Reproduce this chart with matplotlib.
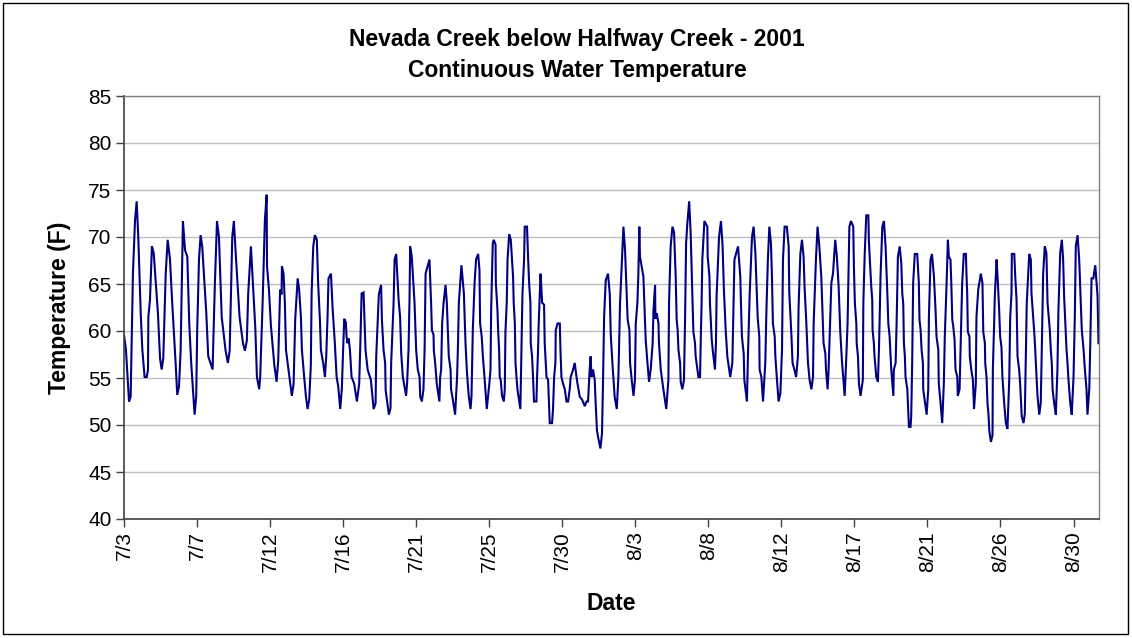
import matplotlib
matplotlib.use("Agg")
import matplotlib.pyplot as plt
from matplotlib.patches import Rectangle
import numpy as np

# Days since 7/3 00:00 and water temperature (F)
days = [0.00, 0.12, 0.31, 0.41, 0.55, 0.68, 0.78, 0.88, 1.03, 1.13, 1.27, 1.40, 1.48, 1.50, 1.60, 1.72, 1.83, 1.95, 2.09, 2.22,
        2.32, 2.42, 2.57, 2.69, 2.83, 2.97, 3.18, 3.28, 3.39, 3.49, 3.63, 3.76, 3.90, 4.02, 4.14, 4.35, 4.45, 4.51, 4.62, 4.72,
        4.82, 5.07, 5.19, 5.46, 5.50, 5.60, 5.73, 5.85, 6.02, 6.26, 6.40, 6.51, 6.67, 6.77, 6.88, 7.12, 7.33, 7.45, 7.57, 7.65,
        7.82, 7.96, 8.09, 8.19, 8.33, 8.39, 8.54, 8.68, 8.79, 8.81, 8.93, 9.05, 9.26, 9.40, 9.50, 9.62, 9.71, 9.73, 9.83, 9.91,
        9.98, 10.08, 10.34, 10.45, 10.55, 10.70, 10.79, 10.90, 10.96, 11.10, 11.21, 11.31, 11.41, 11.51, 11.56, 11.66, 11.76, 11.88, 11.96, 12.07,
        12.13, 12.27, 12.38, 12.46, 12.54, 12.60, 12.75, 12.85, 12.99, 13.10, 13.20, 13.32, 13.42, 13.50, 13.57, 13.67, 13.71, 13.77, 13.84, 13.92,
        14.02, 14.18, 14.35, 14.49, 14.55, 14.64, 14.76, 14.88, 15.01, 15.21, 15.38, 15.50, 15.54, 15.64, 15.70, 15.84, 15.89, 15.99, 16.09, 16.12,
        16.32, 16.42, 16.46, 16.61, 16.67, 16.77, 16.92, 17.01, 17.08, 17.18, 17.38, 17.44, 17.53, 17.59, 17.63, 17.73, 17.80, 17.90, 18.00, 18.10,
        18.21, 18.25, 18.35, 18.45, 18.52, 18.58, 18.72, 18.82, 18.92, 18.97, 19.07, 19.09, 19.17, 19.27, 19.43, 19.48, 19.54, 19.60, 19.69, 19.81,
        19.89, 19.95, 20.01, 20.12, 20.15, 20.26, 20.40, 20.46, 20.52, 20.57, 20.63, 20.79, 20.94, 21.04, 21.12, 21.18, 21.24, 21.35, 21.41, 21.45,
        21.49, 21.60, 21.69, 21.82, 21.90, 21.94, 22.04, 22.11, 22.21, 22.35, 22.52, 22.58, 22.62, 22.72, 22.78, 22.89, 22.91, 23.01, 23.05, 23.11,
        23.15, 23.21, 23.29, 23.40, 23.46, 23.50, 23.58, 23.63, 23.73, 23.83, 23.97, 24.01, 24.08, 24.12, 24.18, 24.24, 24.42, 24.49, 24.55, 24.65,
        24.69, 24.83, 24.90, 24.96, 25.04, 25.06, 25.14, 25.20, 25.26, 25.41, 25.45, 25.51, 25.55, 25.66, 25.70, 25.76, 25.88, 25.92, 26.03, 26.13,
        26.17, 26.23, 26.37, 26.43, 26.50, 26.58, 26.60, 26.71, 26.85, 26.89, 26.95, 27.05, 27.16, 27.26, 27.36, 27.46, 27.52, 27.67, 27.77, 27.88,
        27.94, 28.08, 28.22, 28.39, 28.49, 28.59, 28.69, 28.75, 28.80, 28.90, 29.00, 29.06, 29.14, 29.21, 29.35, 29.45, 29.51, 29.58, 29.68, 29.82,
        29.93, 29.99, 30.09, 30.23, 30.36, 30.46, 30.56, 30.67, 30.77, 30.87, 30.93, 31.03, 31.14, 31.18, 31.28, 31.39, 31.48, 31.53, 31.63, 31.69,
        31.75, 31.79, 31.90, 32.00, 32.06, 32.14, 32.25, 32.35, 32.45, 32.57, 32.62, 32.72, 32.74, 32.82, 32.93, 32.96, 33.07, 33.13, 33.23, 33.41,
        33.54, 33.58, 33.68, 33.79, 33.89, 33.99, 34.05, 34.11, 34.16, 34.26, 34.30, 34.40, 34.50, 34.57, 34.63, 34.71, 34.82, 34.91, 34.98, 35.02,
        35.08, 35.18, 35.22, 35.39, 35.49, 35.53, 35.59, 35.63, 35.76, 35.94, 35.96, 36.07, 36.10, 36.16, 36.21, 36.27, 36.41, 36.47, 36.51, 36.66,
        36.78, 36.88, 36.96, 37.07, 37.17, 37.35, 37.48, 37.61, 37.83, 37.97, 38.01, 38.07, 38.18, 38.22, 38.38, 38.44, 38.55, 38.69, 38.79, 38.90,
        38.96, 39.04, 39.14, 39.16, 39.27, 39.37, 39.51, 39.58, 39.67, 39.76, 39.86, 39.92, 39.98, 40.09, 40.13, 40.23, 40.33, 40.44, 40.54, 40.60,
        40.70, 40.84, 40.95, 40.99, 41.11, 41.19, 41.30, 41.41, 41.52, 41.56, 41.67, 41.77, 41.87, 41.93, 42.04, 42.14, 42.24, 42.35, 42.45, 42.49,
        42.63, 42.73, 42.84, 42.96, 43.10, 43.21, 43.25, 43.35, 43.41, 43.58, 43.68, 43.82, 43.92, 44.03, 44.13, 44.17, 44.23, 44.40, 44.48, 44.58,
        44.69, 44.79, 44.93, 44.97, 45.03, 45.12, 45.14, 45.22, 45.28, 45.38, 45.52, 45.55, 45.63, 45.73, 45.86, 45.89, 45.95, 46.04, 46.10, 46.12,
        46.20, 46.24, 46.35, 46.45, 46.51, 46.55, 46.61, 46.72, 46.82, 46.92, 47.03, 47.09, 47.17, 47.23, 47.27, 47.40, 47.43, 47.54, 47.60, 47.68,
        47.79, 47.89, 47.95, 48.01, 48.05, 48.11, 48.15, 48.26, 48.36, 48.46, 48.50, 48.56, 48.62, 48.72, 48.87, 48.97, 49.01, 49.08, 49.14, 49.22,
        49.24, 49.34, 49.45, 49.55, 49.59, 49.69, 49.78, 49.90, 50.00, 50.06, 50.17, 50.20, 50.31, 50.41, 50.51, 50.57, 50.68, 50.76, 50.82, 50.92,
        50.97, 51.03, 51.09, 51.17, 51.23, 51.34, 51.37, 51.48, 51.54, 51.64, 51.74, 51.87, 51.91, 51.95, 51.99, 52.09, 52.11, 52.20, 52.30, 52.37,
        52.48, 52.52, 52.63, 52.79, 52.89, 52.94, 53.04, 53.06, 53.14, 53.20, 53.26, 53.31, 53.41, 53.51, 53.53, 53.61, 53.65, 53.76, 53.82, 53.92,
        53.98, 54.06, 54.12, 54.23, 54.33, 54.43, 54.54, 54.60, 54.68, 54.70, 54.85, 54.91, 54.99, 55.05, 55.15, 55.21, 55.25, 55.31, 55.42, 55.50,
        55.56, 55.62, 55.77, 55.87, 55.91, 56.08, 56.12, 56.18, 56.28, 56.39, 56.48, 56.53, 56.59, 56.63, 56.73, 56.83, 56.90, 57.04, 57.10, 57.16,
        57.21, 57.31, 57.41, 57.51, 57.57, 57.68, 57.78, 57.86, 57.92, 58.07, 58.13, 58.19, 58.30, 58.39, 58.50, 58.58, 58.64, 58.75, 58.85, 58.89,
        59.01, 59.12, 59.20, 59.30, 59.36, 59.47, 59.53, 59.61, 59.72, 59.84, 59.98, 60.04]

temps = [59.6, 58.0, 52.5, 53.0, 66.1, 71.8, 73.8, 70.0, 61.9, 58.0, 55.1, 55.1, 55.9, 61.5, 63.3, 69.0, 68.3, 65.4, 61.9, 57.1,
         55.9, 57.1, 66.1, 69.7, 67.7, 63.0, 56.6, 53.2, 54.1, 58.0, 71.7, 68.6, 67.9, 60.8, 56.6, 51.1, 53.1, 60.1, 67.6, 70.2,
         69.0, 61.9, 57.3, 55.9, 58.7, 65.1, 71.7, 70.0, 61.5, 57.9, 56.6, 57.9, 70.0, 71.7, 68.3, 61.5, 58.7, 57.9, 59.0, 63.9,
         69.0, 64.5, 60.3, 55.1, 53.8, 55.1, 63.0, 71.8, 74.5, 66.9, 64.4, 60.6, 56.4, 54.6, 56.8, 64.4, 63.9, 66.9, 66.1, 63.0,
         58.0, 56.6, 53.1, 54.4, 61.3, 65.6, 64.4, 61.5, 58.0, 55.1, 53.0, 51.7, 52.7, 56.3, 64.1, 69.0, 70.2, 69.7, 65.1, 61.2,
         58.0, 56.6, 55.1, 57.3, 61.5, 65.6, 66.1, 62.5, 58.7, 55.1, 54.1, 51.7, 53.8, 58.0, 61.3, 60.9, 59.4, 58.7, 59.2, 58.0,
         55.1, 54.4, 52.5, 54.4, 58.0, 64.0, 64.1, 58.0, 55.9, 54.8, 51.7, 52.3, 57.3, 61.5, 63.9, 64.9, 61.2, 58.0, 56.6, 53.7,
         51.1, 51.8, 56.6, 63.0, 67.6, 68.2, 63.3, 61.5, 57.6, 55.1, 53.1, 54.4, 58.0, 63.3, 69.0, 67.9, 65.8, 63.0, 58.0, 55.9,
         55.1, 53.0, 52.5, 53.8, 58.0, 66.1, 67.0, 67.6, 63.0, 60.1, 59.6, 57.9, 56.6, 54.4, 52.5, 55.1, 55.9, 60.8, 63.0, 64.9,
         63.0, 60.1, 57.3, 55.9, 53.8, 52.7, 51.1, 53.1, 55.1, 58.0, 63.0, 67.0, 64.0, 58.7, 55.9, 54.4, 53.1, 51.7, 53.1, 56.6,
         60.1, 65.1, 67.6, 68.2, 66.5, 60.8, 59.4, 57.3, 55.1, 51.7, 54.6, 55.9, 62.2, 69.3, 69.7, 69.2, 65.1, 62.2, 60.1, 58.0,
         55.1, 54.8, 53.1, 52.5, 53.8, 59.9, 63.0, 67.6, 70.3, 69.7, 65.8, 63.0, 60.8, 56.6, 55.1, 53.8, 51.7, 58.0, 64.0, 67.6,
         71.1, 71.1, 67.6, 65.1, 63.0, 58.7, 57.3, 55.1, 52.5, 52.5, 55.1, 58.0, 60.8, 66.1, 65.1, 63.0, 62.8, 58.7, 55.1, 54.8,
         53.0, 50.2, 50.2, 51.6, 55.1, 56.6, 60.1, 60.8, 60.8, 58.0, 55.1, 54.4, 53.8, 52.5, 52.5, 53.8, 55.1, 55.9, 56.6, 55.1,
         54.4, 53.0, 52.7, 52.0, 52.5, 52.5, 55.9, 57.3, 55.1, 55.9, 54.8, 52.3, 49.4, 48.7, 47.5, 49.1, 54.4, 61.5, 65.4, 66.1,
         63.9, 59.6, 56.6, 53.0, 51.7, 55.1, 62.9, 67.2, 71.1, 68.6, 65.8, 61.2, 60.1, 56.6, 54.8, 53.1, 54.8, 60.8, 63.0, 66.1,
         71.1, 67.9, 66.8, 65.8, 63.0, 59.1, 56.6, 54.6, 55.9, 58.7, 62.2, 64.9, 61.3, 61.9, 60.8, 58.7, 55.9, 55.1, 53.8, 51.7,
         54.8, 63.0, 69.0, 71.1, 70.5, 65.8, 61.2, 60.1, 58.0, 56.6, 54.6, 53.8, 54.8, 61.5, 69.3, 71.5, 73.8, 70.5, 66.1, 64.0,
         59.9, 58.7, 57.3, 55.1, 55.1, 58.7, 63.3, 67.6, 71.7, 71.1, 67.9, 65.8, 63.0, 60.8, 59.1, 58.0, 55.9, 58.7, 63.7, 70.0,
         71.7, 69.0, 64.4, 60.1, 57.3, 55.1, 56.6, 67.6, 69.0, 65.8, 63.0, 59.4, 57.6, 54.8, 52.5, 57.3, 64.0, 70.0, 71.1, 68.3,
         65.4, 61.5, 59.4, 55.9, 55.1, 52.5, 56.6, 62.2, 67.6, 71.1, 69.3, 65.8, 60.8, 59.4, 57.3, 54.8, 52.5, 53.4, 58.0, 67.6,
         71.1, 71.1, 69.0, 64.0, 59.9, 56.6, 55.9, 55.1, 57.3, 62.5, 68.2, 69.7, 67.9, 64.7, 60.8, 56.6, 54.8, 53.8, 55.1, 60.8,
         67.6, 71.1, 69.0, 65.8, 58.7, 57.6, 55.9, 53.8, 55.9, 65.1, 66.1, 69.7, 67.9, 64.7, 59.9, 58.7, 56.9, 53.1, 56.3, 60.8,
         71.1, 71.7, 71.1, 66.8, 62.9, 60.8, 58.7, 57.3, 54.4, 53.1, 54.8, 62.9, 67.9, 72.3, 72.3, 69.7, 67.6, 64.7, 63.3, 60.1,
         58.7, 57.3, 55.1, 54.6, 57.9, 60.8, 65.8, 71.1, 71.7, 69.0, 64.0, 60.8, 59.4, 57.3, 55.9, 53.1, 55.9, 56.6, 60.8, 67.9,
         69.0, 67.2, 64.0, 62.9, 58.7, 57.3, 55.1, 53.8, 49.8, 49.8, 50.9, 56.6, 65.1, 68.2, 68.2, 65.1, 61.2, 60.1, 58.0, 56.6,
         53.8, 52.5, 51.1, 53.8, 61.5, 67.6, 68.2, 65.8, 62.2, 59.4, 58.0, 54.4, 52.3, 50.2, 54.4, 59.4, 65.1, 69.7, 67.9, 67.6,
         65.1, 61.2, 60.5, 59.1, 55.9, 55.1, 53.1, 53.8, 58.0, 65.1, 68.2, 68.2, 65.8, 64.0, 59.9, 59.4, 57.3, 55.9, 54.8, 51.7,
         54.4, 61.5, 64.4, 66.1, 65.1, 59.9, 58.7, 56.6, 55.1, 52.3, 51.2, 49.4, 48.2, 48.9, 55.9, 60.8, 63.7, 67.6, 65.8, 62.2,
         59.4, 58.3, 55.1, 52.3, 50.2, 49.6, 54.8, 61.5, 64.0, 68.2, 68.2, 65.8, 63.3, 57.3, 55.9, 54.4, 53.0, 50.9, 50.2, 51.2,
         57.3, 63.0, 68.2, 67.6, 64.0, 59.9, 58.7, 56.6, 53.1, 51.1, 52.3, 56.6, 62.6, 66.1, 69.0, 68.3, 63.0, 60.1, 58.0, 56.6,
         53.8, 52.3, 51.1, 55.9, 62.2, 68.3, 69.7, 67.6, 63.7, 58.0, 56.6, 54.8, 52.3, 51.1, 55.1, 61.5, 69.0, 70.2, 67.6, 65.8,
         60.1, 58.0, 55.9, 53.8, 51.1, 53.8, 58.4, 65.6, 65.6, 67.0, 63.7, 58.7]

tick_labels = ["7/3", "7/7", "7/12", "7/16", "7/21", "7/25", "7/30",
               "8/3", "8/8", "8/12", "8/17", "8/21", "8/26", "8/30"]
tick_step_days = 4.5
y_ticks = [40, 45, 50, 55, 60, 65, 70, 75, 80, 85]

title = "Nevada Creek below Halfway Creek - 2001\nContinuous Water Temperature"

plt.rcParams['font.family'] = ['Liberation Sans', 'DejaVu Sans']

W, H = 1132, 638
fig = plt.figure(figsize=(W / 100, H / 100), dpi=100)
fig.patch.set_facecolor('white')
fig.patches.append(Rectangle((3 / W, 4 / H), 1125 / W, 631 / H, transform=fig.transFigure,
                             fill=False, edgecolor='black', linewidth=1.0))

ax = fig.add_axes([124 / W, 1 - 519 / H, (1099 - 124) / W, (519 - 96) / H])
ax.plot(days, temps, color='#000080', linewidth=1.5, solid_joinstyle='miter')

ax.set_ylim(40, 85)
ax.set_xlim(0, days[-1] + 0.03)
ax.set_yticks(y_ticks)
ax.set_yticklabels([str(v) for v in y_ticks])
ax.set_xticks(np.arange(len(tick_labels)) * tick_step_days)
ax.set_xticklabels(tick_labels, rotation=90)
ax.grid(axis='y', color='#c0c0c0', linewidth=1.0)
ax.set_axisbelow(True)

ax.tick_params(axis='both', direction='out', length=6, width=1, color='#404040',
               labelsize=15, pad=3)
for s in ['left', 'bottom']:
    ax.spines[s].set_color('#404040')
    ax.spines[s].set_linewidth(1.2)
for s in ['top', 'right']:
    ax.spines[s].set_color('#808080')
    ax.spines[s].set_linewidth(1.0)

ax.set_xlabel("Date", fontsize=16.5, fontweight='bold', labelpad=14)
ax.set_ylabel("Temperature (F)", fontsize=16.5, fontweight='bold', labelpad=12)
fig.text(577 / W, 1 - 55 / H, title, ha='center', va='center', fontsize=16.5,
         fontweight='bold', linespacing=1.4)

fig.savefig("out.png", dpi=100)
